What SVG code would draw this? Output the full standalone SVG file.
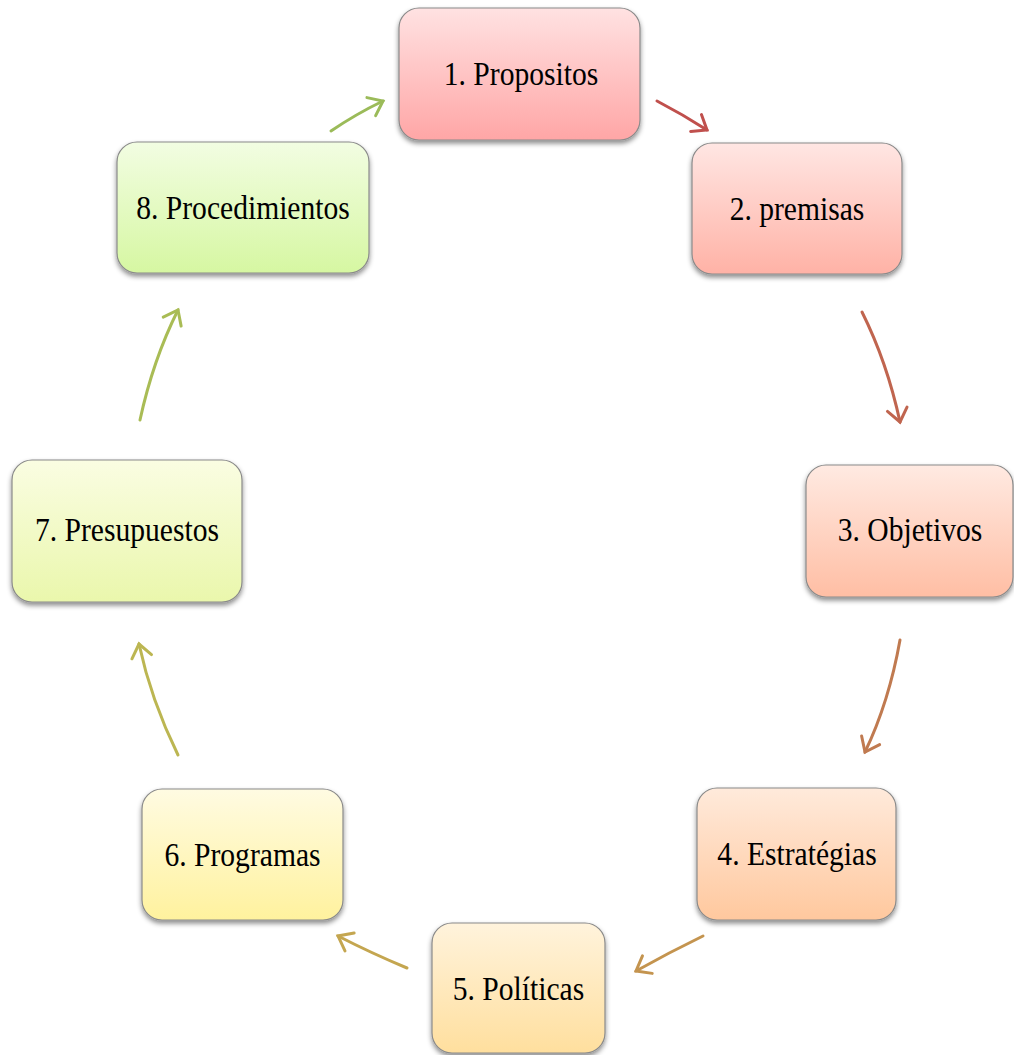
<svg xmlns="http://www.w3.org/2000/svg" width="1014" height="1055" viewBox="0 0 1014 1055">
  <style>
    .box { stroke: #8a8a8a; stroke-width: 1.2; filter: url(#shadow); }
    .label { font-family: "Liberation Serif", "Times New Roman", serif; font-size: 34px; fill: #000; text-anchor: middle; dominant-baseline: middle; }
    .arrow { fill: none; stroke-width: 3; stroke-linecap: round; }
  </style>
  <defs>
    <filter id="shadow" x="-10%" y="-10%" width="120%" height="130%">
      <feDropShadow dx="0" dy="3" stdDeviation="2.5" flood-color="#000" flood-opacity="0.45"/>
    </filter>
    <linearGradient id="g1" x1="0" y1="0" x2="0" y2="1"><stop offset="0" stop-color="#ffe2e2"/><stop offset="1" stop-color="#ffa6a6"/></linearGradient>
    <linearGradient id="g2" x1="0" y1="0" x2="0" y2="1"><stop offset="0" stop-color="#ffe6e3"/><stop offset="1" stop-color="#ffb2a6"/></linearGradient>
    <linearGradient id="g3" x1="0" y1="0" x2="0" y2="1"><stop offset="0" stop-color="#ffeae2"/><stop offset="1" stop-color="#ffbea4"/></linearGradient>
    <linearGradient id="g4" x1="0" y1="0" x2="0" y2="1"><stop offset="0" stop-color="#ffeadb"/><stop offset="1" stop-color="#ffc89e"/></linearGradient>
    <linearGradient id="g5" x1="0" y1="0" x2="0" y2="1"><stop offset="0" stop-color="#fff3dc"/><stop offset="1" stop-color="#ffdf9e"/></linearGradient>
    <linearGradient id="g6" x1="0" y1="0" x2="0" y2="1"><stop offset="0" stop-color="#fffbe2"/><stop offset="1" stop-color="#fff29e"/></linearGradient>
    <linearGradient id="g7" x1="0" y1="0" x2="0" y2="1"><stop offset="0" stop-color="#fafde2"/><stop offset="1" stop-color="#eaf7ac"/></linearGradient>
    <linearGradient id="g8" x1="0" y1="0" x2="0" y2="1"><stop offset="0" stop-color="#f2fde2"/><stop offset="1" stop-color="#d6f7a2"/></linearGradient>
    <marker id="m1" markerUnits="userSpaceOnUse" markerWidth="30" markerHeight="30" refX="0" refY="0" viewBox="-16 -15 20 30" orient="auto"><path d="M-13,-10 L0,0 L-13,10" fill="none" stroke="#c0504d" stroke-width="3" stroke-linecap="round"/></marker>
    <marker id="m2" markerUnits="userSpaceOnUse" markerWidth="30" markerHeight="30" refX="0" refY="0" viewBox="-16 -15 20 30" orient="auto"><path d="M-13,-10 L0,0 L-13,10" fill="none" stroke="#c0654f" stroke-width="3" stroke-linecap="round"/></marker>
    <marker id="m3" markerUnits="userSpaceOnUse" markerWidth="30" markerHeight="30" refX="0" refY="0" viewBox="-16 -15 20 30" orient="auto"><path d="M-13,-10 L0,0 L-13,10" fill="none" stroke="#c07a50" stroke-width="3" stroke-linecap="round"/></marker>
    <marker id="m4" markerUnits="userSpaceOnUse" markerWidth="30" markerHeight="30" refX="0" refY="0" viewBox="-16 -15 20 30" orient="auto"><path d="M-13,-10 L0,0 L-13,10" fill="none" stroke="#c4944f" stroke-width="3" stroke-linecap="round"/></marker>
    <marker id="m5" markerUnits="userSpaceOnUse" markerWidth="30" markerHeight="30" refX="0" refY="0" viewBox="-16 -15 20 30" orient="auto"><path d="M-13,-10 L0,0 L-13,10" fill="none" stroke="#c4a650" stroke-width="3" stroke-linecap="round"/></marker>
    <marker id="m6" markerUnits="userSpaceOnUse" markerWidth="30" markerHeight="30" refX="0" refY="0" viewBox="-16 -15 20 30" orient="auto"><path d="M-13,-10 L0,0 L-13,10" fill="none" stroke="#bcb652" stroke-width="3" stroke-linecap="round"/></marker>
    <marker id="m7" markerUnits="userSpaceOnUse" markerWidth="30" markerHeight="30" refX="0" refY="0" viewBox="-16 -15 20 30" orient="auto"><path d="M-13,-10 L0,0 L-13,10" fill="none" stroke="#a9bc55" stroke-width="3" stroke-linecap="round"/></marker>
    <marker id="m8" markerUnits="userSpaceOnUse" markerWidth="30" markerHeight="30" refX="0" refY="0" viewBox="-16 -15 20 30" orient="auto"><path d="M-13,-10 L0,0 L-13,10" fill="none" stroke="#9bbb59" stroke-width="3" stroke-linecap="round"/></marker>
  </defs>

  <!-- connectors -->
  <g id="connectors">
    <path class="arrow" stroke="#c0504d" marker-end="url(#m1)" d="M657,101 Q682,114 707,130"/>
    <path class="arrow" stroke="#c0654f" marker-end="url(#m2)" d="M862,312 Q887,362 900,422"/>
    <path class="arrow" stroke="#c07a50" marker-end="url(#m3)" d="M900,640 Q889,702 865,752"/>
    <path class="arrow" stroke="#c4944f" marker-end="url(#m4)" d="M703,936 Q670,952 636,971"/>
    <path class="arrow" stroke="#c4a650" marker-end="url(#m5)" d="M407,968 Q371,953 338,936"/>
    <path class="arrow" stroke="#bcb652" marker-end="url(#m6)" d="M178,755 Q151,700 139,644"/>
    <path class="arrow" stroke="#a9bc55" marker-end="url(#m7)" d="M140,420 Q153,360 178,310"/>
    <path class="arrow" stroke="#9bbb59" marker-end="url(#m8)" d="M331,131 Q356,114 383,101"/>
  </g>

  <!-- nodes: labels are set in a horizontally condensed serif -->
  <g id="node1">
    <rect class="box" x="399" y="8" width="241" height="132" rx="20" fill="url(#g1)"/>
    <text class="label" transform="translate(521,77) scale(0.87,1)">1. Propositos</text>
  </g>
  <g id="node2">
    <rect class="box" x="692" y="143" width="210" height="131" rx="20" fill="url(#g2)"/>
    <text class="label" transform="translate(797,212) scale(0.87,1)">2. premisas</text>
  </g>
  <g id="node3">
    <rect class="box" x="806" y="465" width="207" height="132" rx="20" fill="url(#g3)"/>
    <text class="label" transform="translate(910,533) scale(0.87,1)">3. Objetivos</text>
  </g>
  <g id="node4">
    <rect class="box" x="697" y="788" width="199" height="132" rx="20" fill="url(#g4)"/>
    <text class="label" transform="translate(797,857) scale(0.87,1)">4. Estratégias</text>
  </g>
  <g id="node5">
    <rect class="box" x="432" y="923" width="173" height="130" rx="20" fill="url(#g5)"/>
    <text class="label" transform="translate(518.5,992) scale(0.87,1)">5. Políticas</text>
  </g>
  <g id="node6">
    <rect class="box" x="142" y="789" width="201" height="131" rx="20" fill="url(#g6)"/>
    <text class="label" transform="translate(242.5,858) scale(0.87,1)">6. Programas</text>
  </g>
  <g id="node7">
    <rect class="box" x="12" y="460" width="230" height="142" rx="20" fill="url(#g7)"/>
    <text class="label" transform="translate(127,533) scale(0.87,1)">7. Presupuestos</text>
  </g>
  <g id="node8">
    <rect class="box" x="117" y="142" width="252" height="131" rx="20" fill="url(#g8)"/>
    <text class="label" transform="translate(243,211) scale(0.87,1)">8. Procedimientos</text>
  </g>
</svg>
